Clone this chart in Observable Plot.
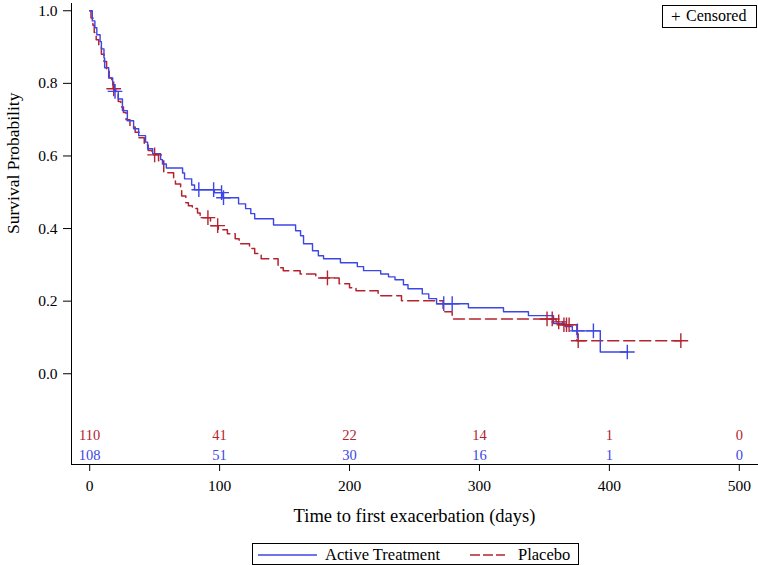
<!DOCTYPE html>
<html>
<head>
<meta charset="utf-8">
<script src="https://cdn.jsdelivr.net/npm/d3@7"></script>
<script src="https://cdn.jsdelivr.net/npm/@observablehq/plot@0.6"></script>
<style>
  body { margin: 0; background: white; font-family: "Liberation Serif", "Times New Roman", Tinos, "DejaVu Serif", serif; }
  #wrap { position: relative; width: 758px; height: 565px; }
  .box { position: absolute; border: 1px solid #000; background: white; box-sizing: border-box; }
  .box > * { position: absolute; }
</style>
</head>
<body>
<div id="wrap">
  <div id="chart"></div>
  <div class="box" style="left:662px; top:5px; width:95px; height:23px;">
    <span style="left:8px; top:1px; font-size:17px;">+</span>
    <span style="left:23px; top:1px; font-size:16px;">Censored</span>
  </div>
  <div class="box" style="left:252px; top:543px; width:327px; height:22px;">
    <svg style="left:5px; top:6px;" width="60" height="10"><line x1="0" x2="59" y1="5" y2="5" stroke="#3c46e6" stroke-width="1.4"/></svg>
    <span style="left:72px; top:1px; font-size:16.5px;">Active Treatment</span>
    <svg style="left:217px; top:6px;" width="40" height="10"><line x1="0" x2="35" y1="5" y2="5" stroke="#b4232f" stroke-width="1.4" stroke-dasharray="10,3"/></svg>
    <span style="left:265px; top:1px; font-size:16.5px;">Placebo</span>
  </div>
</div>
<script>
// Kaplan-Meier steps (days, survival after the drop)
const activeTimes = [
  0, 2, 4, 5.5, 8, 9, 11, 11.5, 14.6, 17.7,
  19, 22, 25.2, 29, 33.8, 37.7, 43, 44.6, 48.5, 54.6,
  56, 59, 71.5, 73, 78.5, 80.7, 96, 102, 114.6, 120,
  124, 127, 141.5, 158.5, 162.3, 164.6, 171.5, 176, 180, 193,
  206, 210.8, 224, 230, 235, 241.5, 245, 256, 261, 267,
  291.5, 318.5, 337.7, 357, 366, 371.5, 393];
const activeSurv = [
  1.0, 0.972, 0.953, 0.934, 0.915, 0.895, 0.87, 0.843, 0.815, 0.796,
  0.778, 0.757, 0.725, 0.697, 0.675, 0.656, 0.638, 0.62, 0.606, 0.59,
  0.578, 0.567, 0.553, 0.537, 0.52, 0.507, 0.499, 0.485, 0.468, 0.455,
  0.441, 0.427, 0.41, 0.394, 0.38, 0.358, 0.339, 0.325, 0.317, 0.306,
  0.295, 0.284, 0.275, 0.267, 0.259, 0.245, 0.234, 0.22, 0.207, 0.193,
  0.182, 0.171, 0.16, 0.138, 0.13, 0.118, 0.06];
const activeCensored = [19.5, 84, 95.4, 101.5, 103, 272.5, 279, 375.4, 387.7, 413.8];

const placeboTimes = [
  0, 1, 2.5, 3.5, 5, 7, 9, 11, 13, 15,
  17, 18, 20, 22, 24, 26, 28, 31, 35, 38,
  42, 45, 48, 53, 57, 64.6, 66, 70, 70.8, 74,
  76, 79, 83, 85, 93, 99, 106, 112, 115, 123,
  127, 132, 145, 149, 162, 174, 192, 200, 205, 222,
  240, 272, 279, 359, 364, 375];
const placeboSurv = [
  1.0, 0.98, 0.96, 0.94, 0.92, 0.9, 0.88, 0.86, 0.835, 0.815,
  0.8, 0.785, 0.77, 0.75, 0.735, 0.72, 0.7, 0.68, 0.665, 0.65,
  0.63, 0.615, 0.603, 0.587, 0.554, 0.538, 0.523, 0.505, 0.49, 0.471,
  0.463, 0.455, 0.443, 0.43, 0.408, 0.397, 0.386, 0.372, 0.358, 0.345,
  0.331, 0.317, 0.292, 0.284, 0.275, 0.264, 0.248, 0.237, 0.229, 0.215,
  0.201, 0.171, 0.151, 0.143, 0.135, 0.091];
const placeboCensored = [18.5, 50, 91, 98.5, 183, 352, 356, 361, 365, 367, 369, 376, 455];

// number at risk
const riskDays = [0, 100, 200, 300, 400, 500];
const riskPlacebo = [110, 41, 22, 14, 1, 0];
const riskActive = [108, 51, 30, 16, 1, 0];

const xTicks = [0, 100, 200, 300, 400, 500];
const yTicks = [0, 0.2, 0.4, 0.6, 0.8, 1.0];

const blue = "#3c46e6", red = "#b4232f";
const serif = "'Liberation Serif', 'Times New Roman', Tinos, 'DejaVu Serif', serif";

function survAt(times, surv, t) {
  let s = surv[0];
  for (let i = 0; i < times.length; i++) if (times[i] <= t) s = surv[i];
  return s;
}
function curve(times, surv, censored) {
  let pts = times.map((t, i) => ({t, s: surv[i]}));
  let last = d3.max(censored);
  pts.push({t: last, s: survAt(times, surv, last)});
  return pts;
}
function marks(times, surv, censored) {
  return censored.map(t => ({t, s: survAt(times, surv, t)}));
}

const activeLine = curve(activeTimes, activeSurv, activeCensored);
const placeboLine = curve(placeboTimes, placeboSurv, placeboCensored);

let chart = Plot.plot({
  width: 758,
  height: 530,
  marginLeft: 71,
  marginRight: 1,
  marginTop: 3,
  marginBottom: 66,
  style: { fontFamily: serif, fontSize: "15.5px", color: "#000", background: "white" },
  x: { domain: [-14, 514], ticks: xTicks, tickSize: 7, tickPadding: 8, label: null, line: true },
  y: { domain: [-0.25, 1.02], ticks: yTicks, tickFormat: ".1f", tickSize: 8, tickPadding: 6, label: null, line: true },
  marks: [
    Plot.line(placeboLine, { x: "t", y: "s", curve: "step-after", stroke: red, strokeWidth: 1.5, strokeDasharray: "11,5" }),
    Plot.line(activeLine, { x: "t", y: "s", curve: "step-after", stroke: blue, strokeWidth: 1.4 }),
    Plot.dot(marks(placeboTimes, placeboSurv, placeboCensored), { x: "t", y: "s", symbol: "plus", r: 4.8, stroke: red, strokeWidth: 1.4 }),
    Plot.dot(marks(activeTimes, activeSurv, activeCensored), { x: "t", y: "s", symbol: "plus", r: 4.8, stroke: blue, strokeWidth: 1.4 }),
    Plot.text(riskDays, { x: d => d, y: () => -0.17, text: (d, i) => String(riskPlacebo[i]), fill: red, fontSize: 14.5 }),
    Plot.text(riskDays, { x: d => d, y: () => -0.225, text: (d, i) => String(riskActive[i]), fill: blue, fontSize: 14.5 }),
    Plot.text(["Survival Probability"], { text: d => d, frameAnchor: "left", rotate: -90, dx: -58, fontSize: 17.5 }),
    Plot.text(["Time to first exacerbation (days)"], { text: d => d, frameAnchor: "bottom", dy: 57, fontSize: 18.5 })
  ]
});
d3.select("#chart").append(() => chart);
</script>
</body>
</html>
